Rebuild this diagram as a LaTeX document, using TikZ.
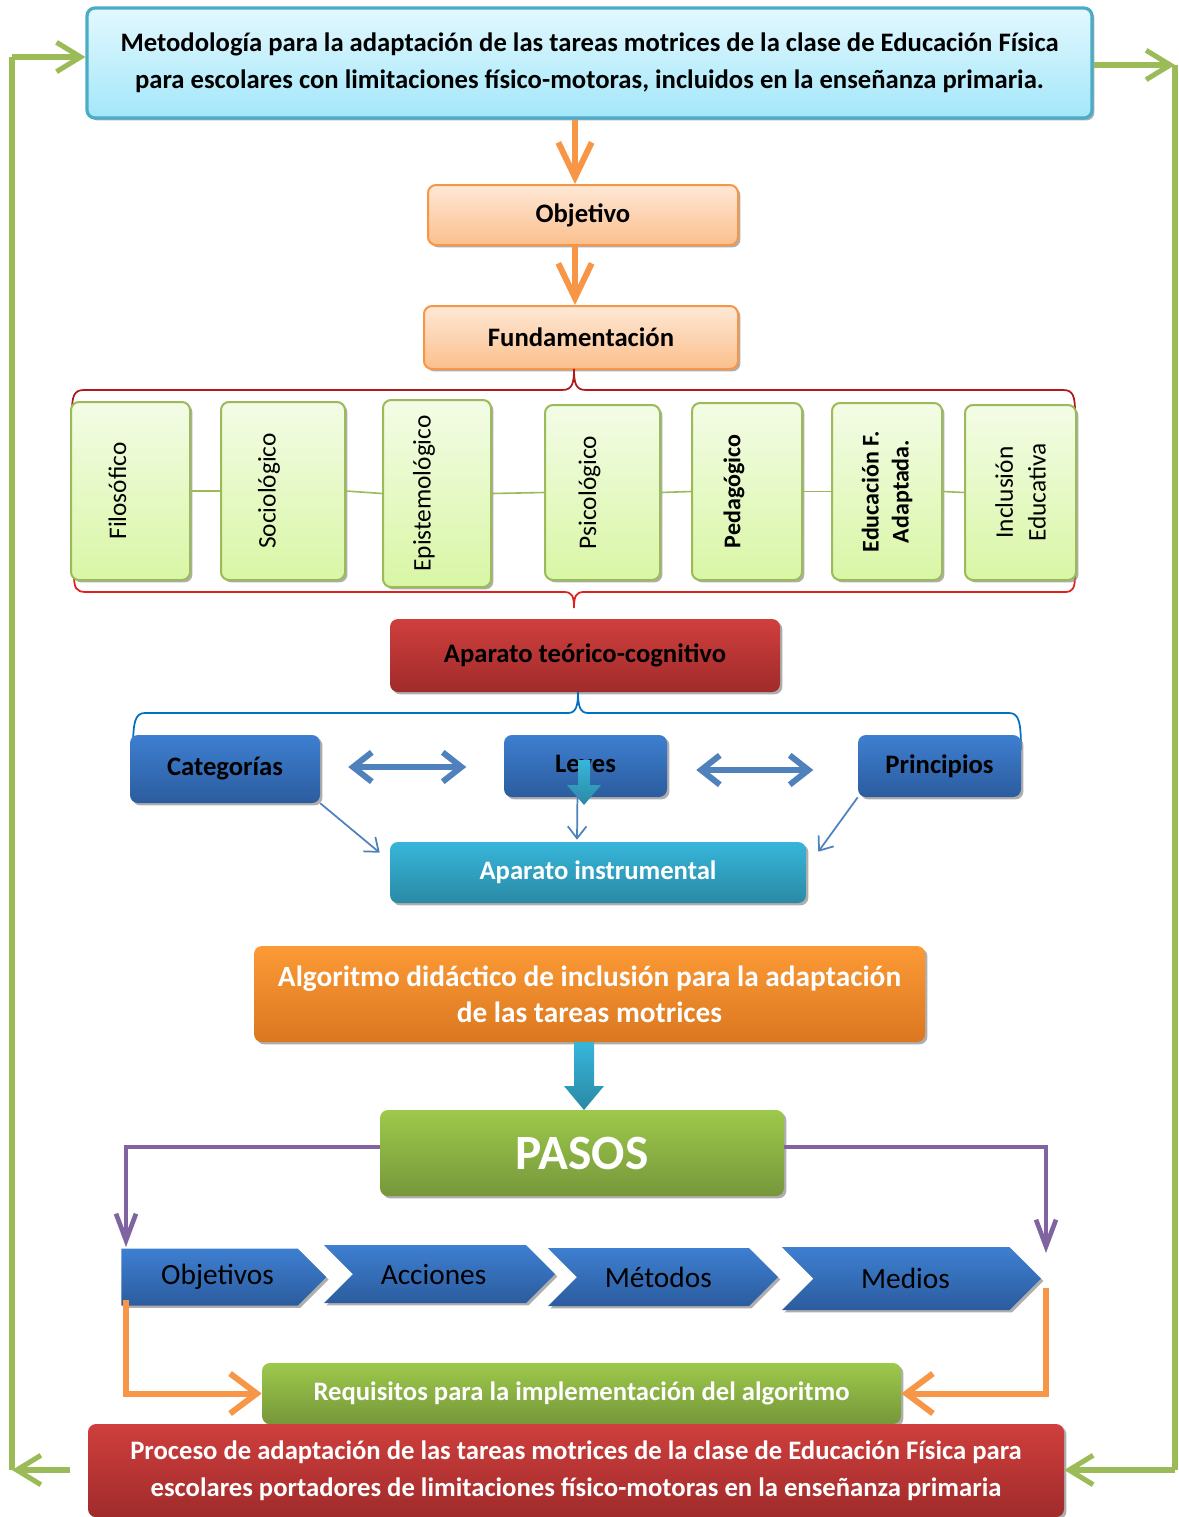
\documentclass[tikz,border=0pt]{standalone}
\usepackage{fontspec}
\setmainfont{Carlito}
\usetikzlibrary{arrows.meta,shadows,calc,shapes.symbols}
\definecolor{cyA}{HTML}{E3F8FE}
\definecolor{cyB}{HTML}{A3E7FA}
\definecolor{cybd}{HTML}{4BACC6}
\definecolor{orA}{HTML}{FEE8D6}
\definecolor{orB}{HTML}{FBBF8C}
\definecolor{orbd}{HTML}{F79646}
\definecolor{grA}{HTML}{F3FCE6}
\definecolor{grB}{HTML}{D9F6A5}
\definecolor{grbd}{HTML}{9BBB59}
\definecolor{rdA}{HTML}{CF3F3D}
\definecolor{rdB}{HTML}{A02B2B}
\definecolor{blA}{HTML}{3E7FD1}
\definecolor{blB}{HTML}{2B5C9E}
\definecolor{ciA}{HTML}{37B6DA}
\definecolor{ciB}{HTML}{2A89A5}
\definecolor{agA}{HTML}{FC9A36}
\definecolor{agB}{HTML}{DB771F}
\definecolor{psA}{HTML}{9DC94B}
\definecolor{psB}{HTML}{76973A}
\definecolor{purp}{HTML}{8064A2}
\definecolor{arrbl}{HTML}{4F81BD}
\definecolor{loopg}{HTML}{9BBB59}
\definecolor{bracebl}{HTML}{0070C0}
\definecolor{bracerd}{HTML}{E0201E}
\tikzset{
  area/.style n args={4}{at={({(#1+#3)/2},{(#2+#4)/2})}, minimum width={(#3-#1)*0.75pt}, minimum height={(#4-#2)*0.75pt}},
  shad/.style={drop shadow={shadow xshift=1.8pt,shadow yshift=-1.8pt,fill=black!45,opacity=0.7}},
  bx/.style={rounded corners=6pt, inner sep=0pt, shad, align=center},
  bf/.style={font=\bfseries\fontsize{20}{27}\selectfont},
  topbox/.style={bx, draw=cybd, line width=2.4pt, top color=cyA, bottom color=cyB, font=\bfseries\fontsize{20}{27.75}\selectfont},
  orbox/.style={bx, bf, draw=orbd, line width=1.5pt, top color=orA, bottom color=orB},
  grbox/.style={bx, draw=grbd, line width=1.5pt, top color=grA, bottom color=grB},
  gtext/.style={rotate=90, align=center, font=\fontsize{19}{24.5}\selectfont},
  gtextb/.style={rotate=90, align=center, font=\bfseries\fontsize{18}{22.5}\selectfont},
  redbox/.style={bx, top color=rdA, bottom color=rdB},
  bluebox/.style={bx, bf, top color=blA, bottom color=blB},
  cyanbox/.style={bx, bf, text=white, top color=ciA, bottom color=ciB},
  algbox/.style={bx, text=white, top color=agA, bottom color=agB, font=\bfseries\fontsize{22}{27}\selectfont},
  grnbox/.style={bx, text=white, top color=psA, bottom color=psB},
  chev/.style={shape=signal, signal to=east, inner sep=0pt, top color=blA, bottom color=blB, shad, font=\fontsize{22}{24}\selectfont},
  orarrow/.style={draw=orbd, line width=4.5pt, -{Straight Barb[length=26pt,width=25pt,line width=4.5pt]}},
  gline/.style={draw=grbd, line width=1.2pt},
  dblarrow/.style={draw=arrbl, line width=4.5pt, {Straight Barb[length=14pt,width=22pt,line width=4.5pt]}-{Straight Barb[length=14pt,width=22pt,line width=4.5pt]}},
  thinarrow/.style={draw=arrbl, line width=1.3pt, -{Straight Barb[length=9pt,width=14pt,line width=1.3pt]}},
  purarrow/.style={draw=purp, line width=3.5pt, -{Straight Barb[length=20pt,width=15pt,line width=3.5pt]}},
  orlink/.style={draw=orbd, line width=4.5pt, -{Straight Barb[length=20pt,width=30pt,line width=4.5pt]}},
  looparrow/.style={draw=loopg, line width=3.8pt, -{Straight Barb[length=18pt,width=22pt,line width=3.8pt]}},
  loopline/.style={draw=loopg, line width=3.8pt},
}
\begin{document}
\begin{tikzpicture}[x=0.75pt,y=-0.75pt]
\path[use as bounding box] (0,0) rectangle (1178,1517);
\clip (0,0) rectangle (1178,1517);
\fill[white] (0,0) rectangle (1178,1517);

% top box
\node[topbox, area={87}{6}{1092}{120}, minimum height={110*0.75pt}] (top) {Metodología para la adaptación de las tareas motrices de la clase de Educación Física\\para escolares con limitaciones físico-motoras, incluidos en la enseñanza primaria.};
\coordinate (cx) at (575,0);
\node[orbox, area={428}{185}{738}{245}] (obj) {Objetivo};
\node[orbox, area={424}{306}{738}{369}] (fund) {Fundamentación};
\draw[orarrow] (top.south -| cx) -- (obj.north -| cx);
\draw[orarrow] (obj.south -| cx) -- (fund.north -| cx);

% red braces
\draw[bracerd!80!black, line width=1.3pt] (72,412) .. controls (72,396) and (74,390) .. (84,390) -- (562,390) .. controls (572,390) and (574,384) .. (574,369) .. controls (574,384) and (576,390) .. (586,390) -- (1063,390) .. controls (1073,390) and (1075,396) .. (1075,412);
\draw[bracerd, line width=1.3pt] (74,575) .. controls (74,588) and (76,592) .. (86,592) -- (564,592) .. controls (572,592) and (574,596) .. (574,608) .. controls (574,596) and (576,592) .. (584,592) -- (1065,592) .. controls (1073,592) and (1075,588) .. (1075,575);

% green boxes
\node[grbox, area={71}{402}{190}{580}] (filo) {};
\node[grbox, area={221}{402}{345}{580}] (soc) {};
\node[grbox, area={383}{400}{491}{587}] (epi) {};
\node[grbox, area={545}{405}{660}{580}] (psi) {};
\node[grbox, area={692}{403}{802}{580}] (ped) {};
\node[grbox, area={832}{403}{942}{580}] (edu) {};
\node[grbox, area={965}{405}{1076}{580}] (inc) {};
\node[gtext] (filoT) at ([shift={(-13,0)}]filo.center) {Filosófico};
\node[gtext] (socT) at ([shift={(-14,0)}]soc.center) {Sociológico};
\node[gtext] (epiT) at ([shift={(-13,0)}]epi.center) {Epistemológico};
\node[gtext] (psiT) at ([shift={(-13,0)}]psi.center) {Psicológico};
\node[gtextb] (pedT) at ([shift={(-13,0)}]ped.center) {Pedagógico};
\node[gtextb] (eduT) at (edu.center) {Educación F.\\Adaptada.};
\node[gtext] (incT) at (inc.center) {Inclusión\\Educativa};
\draw[gline] (filo.east) -- (soc.west);
\draw[gline] (soc.east) -- (epi.west);
\draw[gline] (epi.east) -- (psi.west);
\draw[gline] (psi.east) -- (ped.west);
\draw[gline] (ped.east) -- (edu.west);
\draw[gline] (edu.east) -- (inc.west);

% aparato teorico
\node[redbox, bf, area={390}{619}{780}{692}] (apt) {Aparato teórico-cognitivo};
\draw[bracebl, line width=1.3pt] (133,750) .. controls (133,722) and (135,713) .. (145,713) -- (568,713) .. controls (576,713) and (578,706) .. (578,692) .. controls (578,706) and (580,713) .. (588,713) -- (1009,713) .. controls (1019,713) and (1021,722) .. (1021,750);

\node[bluebox, area={130}{735}{320}{803}] (cat) {Categorías};
\node[bluebox, area={504}{735}{667}{797}] (ley) {Leyes};
\node[bluebox, area={858}{735}{1021}{797}] (pri) {Principios};
\draw[dblarrow] ($(cat.east)+(28,-2)$) -- ($(cat.east)+(146,-2)$);
\draw[dblarrow] ($(ley.east)+(29,4)$) -- ($(ley.east)+(146,4)$);
\shade[top color=ciA, bottom color=ciB] (578,760) -- (590,760) -- (590,785) -- (601,785) -- (584,805) -- (567,785) -- (578,785) -- cycle;

\node[cyanbox, area={390}{842}{806}{903}] (ins) {Aparato instrumental};
\draw[thinarrow] (cat.south east) -- ([shift={(-10,11)}]ins.north west);
\draw[thinarrow] ([shift={(-8,-7)}]ley.south) -- ([shift={(-21,-2)}]ins.north);
\draw[thinarrow] (pri.south west) -- ([shift={(12,10)}]ins.north east);

% algoritmo
\node[algbox, area={254}{946}{925}{1042}] (alg) {Algoritmo didáctico de inclusión para la adaptación\\de las tareas motrices};
\shade[top color=ciA, bottom color=ciB] (574,1042) -- (594,1042) -- (594,1086) -- (604,1086) -- (584,1110) -- (564,1086) -- (574,1086) -- cycle;

\node[grnbox, area={380}{1110}{784}{1196}, font=\bfseries\fontsize{37}{40}\selectfont] (pasos) {PASOS};
\path[use as bounding box] (0,0) rectangle (1178,1517);

% chevrons
\node[chev, minimum width=153.75pt, minimum height=42.75pt] (ob) at (209.5,1277) {\hspace*{12pt}Objetivos};
\node[chev, signal from=west, minimum width=173.25pt, minimum height=43.5pt] (ac) at (439.5,1274) {Acciones\hspace*{9pt}};
\node[chev, signal from=west, minimum width=172.5pt, minimum height=43.5pt] (me) at (663,1277) {Métodos\hspace*{7pt}};
\node[chev, signal from=west, minimum width=194.25pt, minimum height=47.25pt] (md) at (911.5,1278.5) {Medios\hspace*{9pt}};

\coordinate (pl) at (126,1247);
\coordinate (pr) at (1046,1253);
\draw[purarrow] (pasos.west |- 0,1147) -| (pl);
\draw[purarrow] (pasos.east |- 0,1147) -| (pr);

% requisitos
\node[grnbox, area={262}{1363}{901}{1424}, font=\bfseries\fontsize{20}{22}\selectfont] (req) {Requisitos para la implementación del algoritmo};
\coordinate (ol) at (126,1300);
\coordinate (or) at (1046,1288);
\draw[orlink] (ol) |- (req.west);
\draw[orlink] (or) |- (req.east);

% proceso
\node[redbox, text=white, area={88}{1424}{1064}{1517}, font=\bfseries\fontsize{20}{27.75}\selectfont] (proc) {Proceso de adaptación de las tareas motrices de la clase de Educación Física para\\escolares portadores de limitaciones físico-motoras en la enseñanza primaria};

% feedback loop
\coordinate (lb) at (12,1470);
\coordinate (lt) at (12,57);
\coordinate (rt) at (1175,65);
\coordinate (rb) at (1175,1470);
\draw[looparrow] ([xshift=-13pt]proc.west |- lb) -- (lb);
\draw[loopline] (lb) -- (lt);
\draw[looparrow] (lt) -- (top.west |- lt);
\draw[looparrow] (top.east |- rt) -- (rt);
\draw[loopline] (rt) -- (rb);
\draw[looparrow] (rb) -- (proc.east |- rb);
\end{tikzpicture}
\end{document}
